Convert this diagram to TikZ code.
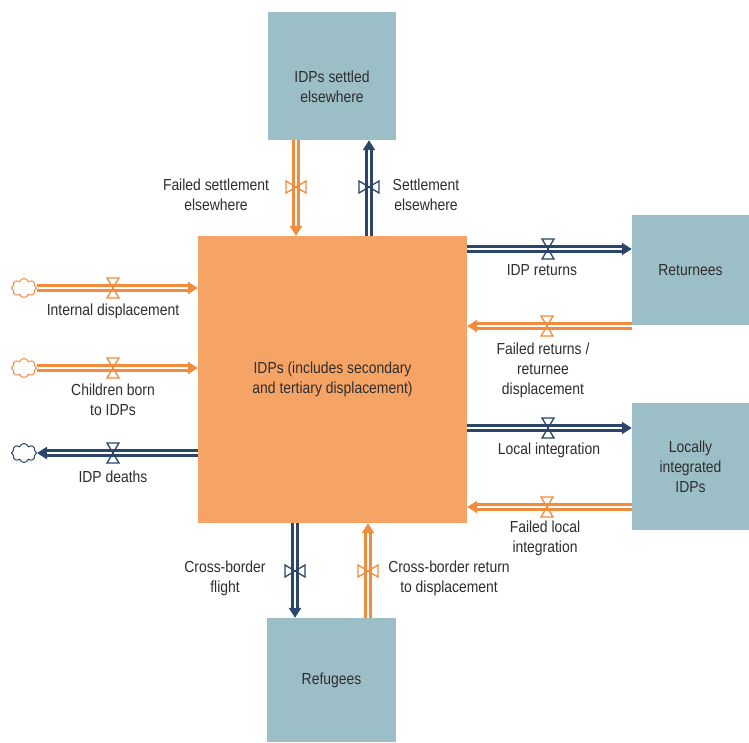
\documentclass[tikz,border=0pt]{standalone}
\usepackage{fontspec}
\setmainfont[FakeStretch=0.87]{Liberation Sans}
\usetikzlibrary{arrows.meta,shapes.symbols}
\definecolor{pipeor}{HTML}{F28C3C}
\definecolor{boxor}{HTML}{F6A465}
\definecolor{navy}{HTML}{2B4669}
\definecolor{stockblue}{HTML}{9CBEC6}
\definecolor{txt}{HTML}{2E2E2E}
\tikzset{
  lbl/.style={text=txt, align=center, font=\fontsize{16}{20}\selectfont, inner sep=0pt},
  stock/.style={fill=stockblue, draw=none, text=txt, align=center, font=\fontsize{16}{20}\selectfont, inner sep=0pt},
  valve/.pic={\draw[pic actions, line width=1.3pt, line join=miter] (-6,-10) -- (6,-10) -- (0,0) -- cycle (-6,10) -- (6,10) -- (0,0) -- cycle;},
  src/.style={cloud, cloud puffs=8, draw, fill=white, line width=1pt, minimum width=25pt, minimum height=19pt, inner sep=0pt},
}
\newcommand\pipe[3]{%
  \draw[#1, line width=7.5pt, -{Triangle[length=10pt,width=12pt]}] (#2) -- (#3);
  \draw[white, line width=1.8pt, shorten >=10pt] (#2) -- (#3);
}
\begin{document}
\begin{tikzpicture}[x=1pt,y=-1pt]
\useasboundingbox[fill=white] (0,0) rectangle (749,742);
% stocks
\node[stock, minimum width=128pt, minimum height=128pt] (settled) at (332,76) {};
\node[lbl] (settledtxt) at (332,87) {IDPs settled\\elsewhere};
\node[stock, fill=boxor, minimum width=269pt, minimum height=287pt] (idp) at (332.5,379.5) {IDPs (includes secondary\\and tertiary displacement)};
\node[stock, minimum width=117pt, minimum height=110pt] (ret) at (690.5,270) {Returnees};
\node[stock, minimum width=117pt, minimum height=127pt] (loc) at (690.5,466.5) {Locally\\integrated\\IDPs};
\node[stock, minimum width=129pt, minimum height=124pt] (ref) at (331.5,680) {Refugees};
% helper coordinates
\coordinate (xfs) at (296,0);
\coordinate (xse) at (369,0);
\coordinate (xcf) at (295,0);
\coordinate (xcr) at (368,0);
\coordinate (yr1) at (0,249);
\coordinate (yr2) at (0,326);
\coordinate (yr3) at (0,428);
\coordinate (yr4) at (0,507);
% clouds
\node[src, draw=pipeor] (cl1) at (24,288) {};
\node[src, draw=pipeor] (cl2) at (24,368) {};
\node[src, draw=navy] (cl3) at (24,453) {};
% flows
\pipe{pipeor}{settled.south -| xfs}{idp.north -| xfs}
\pipe{navy}{idp.north -| xse}{settled.south -| xse}
\pipe{navy}{idp.east |- yr1}{ret.west |- yr1}
\pipe{pipeor}{ret.west |- yr2}{idp.east |- yr2}
\pipe{navy}{idp.east |- yr3}{loc.west |- yr3}
\pipe{pipeor}{loc.west |- yr4}{idp.east |- yr4}
\pipe{pipeor}{cl1.east}{idp.west |- cl1.east}
\pipe{pipeor}{cl2.east}{idp.west |- cl2.east}
\pipe{navy}{idp.west |- cl3.east}{cl3.east}
\pipe{navy}{idp.south -| xcf}{ref.north -| xcf}
\pipe{pipeor}{ref.north -| xcr}{idp.south -| xcr}
% valves
\pic[draw=pipeor, rotate=90] at (296,187) {valve};
\pic[draw=navy, rotate=90] at (369,187) {valve};
\pic[draw=navy] at (548,249) {valve};
\pic[draw=pipeor] at (547,326) {valve};
\pic[draw=navy] at (548,428) {valve};
\pic[draw=pipeor] at (547,507) {valve};
\pic[draw=pipeor] at (113,288) {valve};
\pic[draw=pipeor] at (113,368) {valve};
\pic[draw=navy] at (113,453) {valve};
\pic[draw=navy, rotate=90] at (295,571) {valve};
\pic[draw=pipeor, rotate=90] at (368,571) {valve};
% labels
\node[lbl] (lfs) at (216,195) {Failed settlement\\elsewhere};
\node[lbl] (lse) at (426,195) {Settlement\\elsewhere};
\node[lbl] (lr1) at (542,270) {IDP returns};
\node[lbl] (lr2) at (543,370) {Failed returns /\\returnee\\displacement};
\node[lbl] (lr3) at (549,450) {Local integration};
\node[lbl] (lr4) at (545,538) {Failed local\\integration};
\node[lbl] (ll1) at (113,311) {Internal displacement};
\node[lbl] (ll2) at (113,400) {Children born\\to IDPs};
\node[lbl] (ll3) at (113,477) {IDP deaths};
\node[lbl] (lcf) at (225,578) {Cross-border\\flight};
\node[lbl] (lcr) at (449,578) {Cross-border return\\to displacement};
\end{tikzpicture}
\end{document}
